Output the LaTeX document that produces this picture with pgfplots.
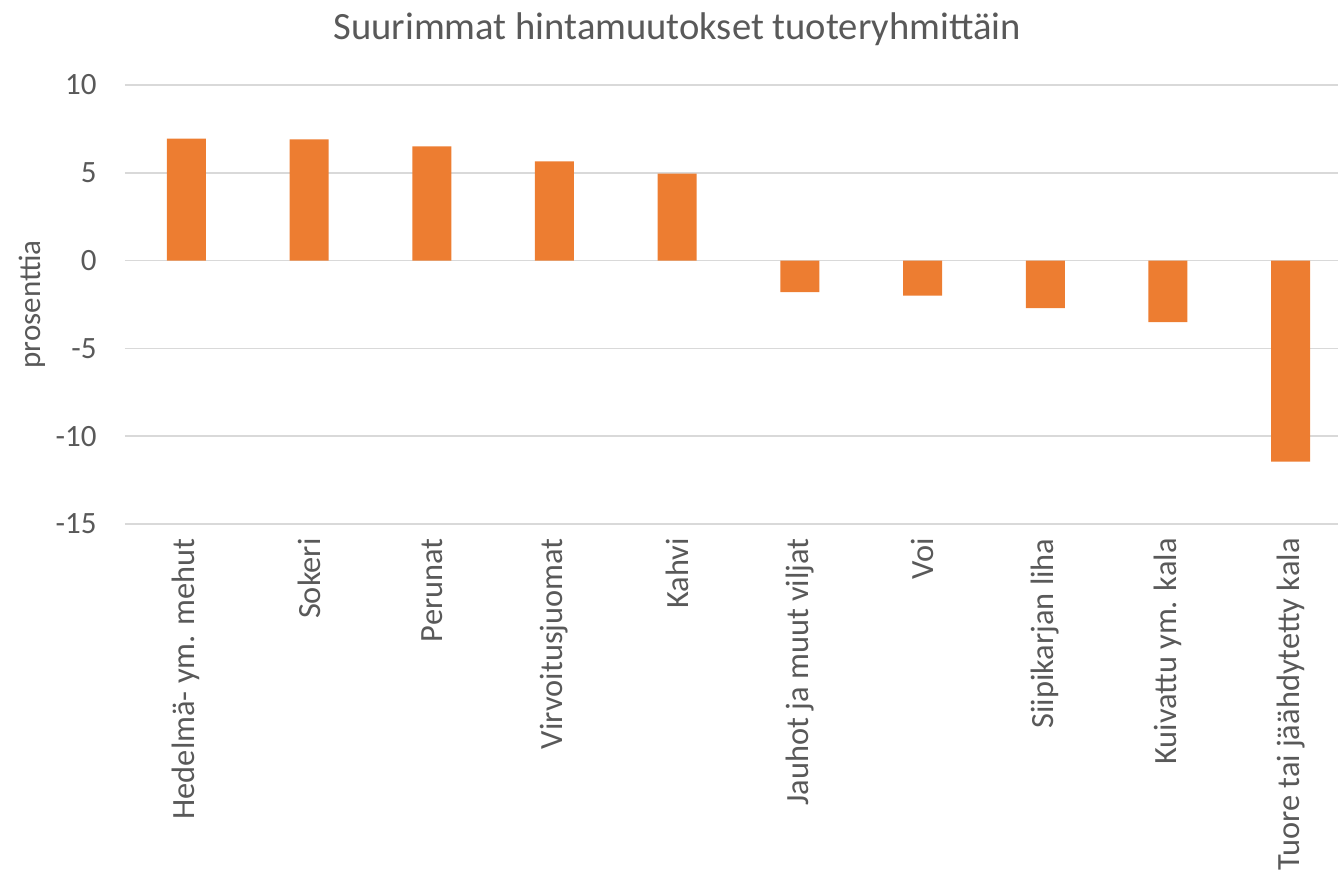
\documentclass[border=0pt]{standalone}
\usepackage{pgfplots}
\pgfplotsset{compat=1.18}
\usepackage{fontspec}
\setmainfont{Carlito}
\definecolor{barorange}{HTML}{ED7D31}
\definecolor{txtgray}{HTML}{595959}
\definecolor{gridgray}{HTML}{D9D9D9}
\begin{document}
\begin{tikzpicture}
% page = chart area; the plot runs a little past the right edge, as in the source
\useasboundingbox (-62.5pt,-177pt) rectangle (606.5pt,262pt);
\begin{axis}[
  scale only axis,
  width=613.5pt, height=219.5pt,
  ybar, bar width=19.5pt,
  xmin=-0.5, xmax=9.5,
  ymin=-15, ymax=10,
  ytick={-15,-10,...,10},
  xtick=data,
  xticklabels={Hedelmä- ym. mehut, Sokeri, Perunat, Virvoitusjuomat, Kahvi,
    Jauhot ja muut viljat, Voi, Siipikarjan liha, Kuivattu ym. kala,
    Tuore tai jäähdytetty kala},
  axis line style={draw=none},
  major tick length=0pt,
  ymajorgrids,
  grid style={gridgray, line width=0.8pt},
  /pgf/number format/assume math mode=true,
  tick label style={font=\fontsize{15.5}{18}\selectfont, text=txtgray},
  yticklabel style={anchor=east, inner sep=0pt, xshift=-14pt},
  xticklabel style={rotate=90, anchor=east, inner sep=0pt,
    font=\fontsize{16.2}{19}\selectfont},
  xticklabel shift=7pt,
  ylabel={prosenttia},
  ylabel style={at={(axis description cs:0,0.5)}, anchor=center, yshift=46.5pt,
    font=\fontsize{15.5}{18}\selectfont, text=txtgray},
  title={Suurimmat hintamuutokset tuoteryhmittäin},
  title style={at={(axis description cs:0.45,1)}, anchor=center, yshift=22pt,
    font=\fontsize{19.3}{23}\selectfont, text=txtgray},
]
\addplot[fill=barorange, draw=none] coordinates {
  (0,6.95) (1,6.9) (2,6.5) (3,5.65) (4,4.95)
  (5,-1.8) (6,-2.0) (7,-2.7) (8,-3.5) (9,-11.45)
};
\end{axis}
\end{tikzpicture}
\end{document}
